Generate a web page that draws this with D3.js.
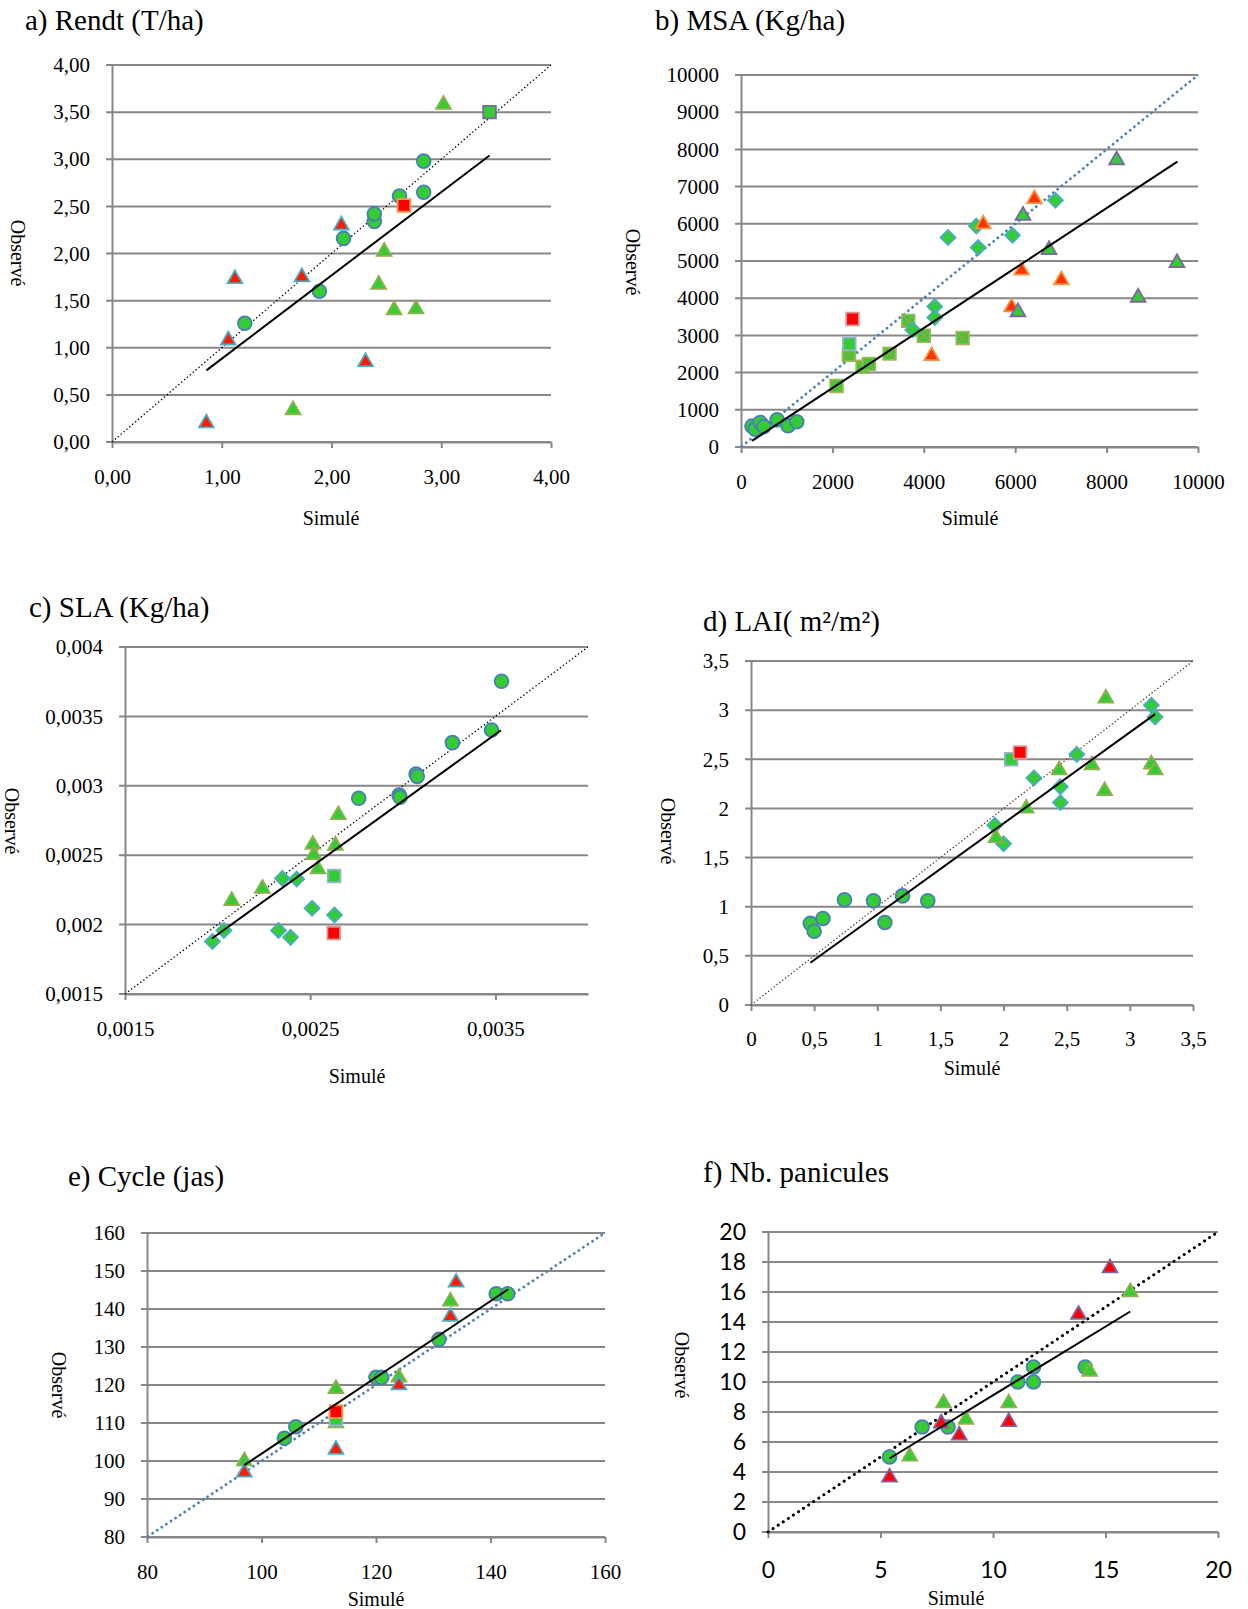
<!DOCTYPE html>
<html lang="fr">
<head>
<meta charset="utf-8"/>
<script src="https://cdn.jsdelivr.net/npm/d3@7"></script>
<style>
  body { margin: 0; background: #fff; }
  text { font-family: "Liberation Serif", "Times New Roman", serif; fill: #000; }
</style>
</head>
<body>
<script>
// ---- data (simulé, observé) ----
var aCirc = [[1.21,1.26],[1.89,1.60],[2.11,2.16],[2.39,2.34],[2.39,2.42],[2.62,2.61],[2.84,2.65],[2.84,2.98]];
var aTriR = [[0.86,0.20],[1.06,1.08],[1.12,1.73],[1.73,1.75],[2.09,2.30],[2.31,0.85]];
var aTriG = [[1.65,0.34],[2.43,1.67],[2.48,2.02],[2.57,1.40],[2.77,1.41],[3.02,3.58]];
var aSqP = [[3.44,3.50]];
var aSqR = [[2.66,2.51]];
var aFit = [[0.86,0.76],[3.44,3.04]];
var aXTicks = [0,1,2,3,4];
var aYTicks = [0,0.5,1,1.5,2,2.5,3,3.5,4];

var bCirc = [[240,560],[310,480],[420,660],[500,550],[790,730],[1030,570],[1220,680]];
var bSqX = [[2090,1640],[2360,2480],[2660,2155],[2800,2230],[3250,2510],[3660,3390],[4000,2990],[4850,2930]];
var bSqB = [[2370,2770]];
var bSqR = [[2440,3440]];
var bDia = [[3760,3150],[4240,3775],[4240,3480],[4530,5630],[5150,5940],[5190,5360],[5940,5690],[6880,6630]];
var bTriO = [[4170,2450],[5300,5990],[5920,3760],[6140,4750],[6420,6670],[7010,4490]];
var bTriP = [[6060,3630],[6170,6220],[6740,5300],[8220,7710],[8690,4020],[9540,4950]];
var bFit = [[240,165],[9550,7670]];
var bXTicks = [0,2000,4000,6000,8000,10000];
var bYTicks = [0,1000,2000,3000,4000,5000,6000,7000,8000,9000,10000];

var cCirc = [[0.002762,0.00291],[0.00298,0.002934],[0.002985,0.002918],[0.003072,0.003085],[0.003078,0.003068],[0.003268,0.003311],[0.003479,0.003402],[0.003533,0.003753]];
var cTriG = [[0.002076,0.002171],[0.002242,0.00226],[0.002514,0.002577],[0.002519,0.002503],[0.002542,0.0024],[0.002636,0.00257],[0.002652,0.00279]];
var cDia = [[0.001972,0.001879],[0.002034,0.001958],[0.002329,0.001958],[0.00235,0.002333],[0.002394,0.001908],[0.002427,0.002328],[0.00251,0.002118],[0.002631,0.00207]];
var cSqB = [[0.002629,0.00235]];
var cSqR = [[0.002627,0.001939]];
var cFit = [[0.00197,0.0019],[0.00353,0.0034]];
var cXTicks = [0.0015,0.0025,0.0035];
var cYTicks = [0.0015,0.002,0.0025,0.003,0.0035,0.004];

var dCirc = [[0.47,0.83],[0.50,0.75],[0.57,0.88],[0.74,1.07],[0.97,1.06],[1.06,0.84],[1.20,1.11],[1.40,1.06]];
var dDia = [[1.93,1.83],[2.0,1.64],[2.24,2.31],[2.45,2.06],[2.45,2.22],[2.58,2.55],[3.17,3.05],[3.2,2.93]];
var dTriG = [[1.94,1.70],[2.18,2.0],[2.44,2.39],[2.70,2.44],[2.80,2.18],[2.81,3.12],[3.17,2.45],[3.2,2.39]];
var dSqB = [[2.06,2.50]];
var dSqR = [[2.13,2.57]];
var dFit = [[0.47,0.43],[3.2,2.96]];
var dTicks = [0,0.5,1,1.5,2,2.5,3,3.5];

var eCirc = [[104,106],[106,109],[120,122],[121,122],[131,132],[141,144],[143,144]];
var eTriG = [[97,100],[113,119],[113,110],[124,122],[133,142]];
var eTriR = [[97,97],[113,103],[124,120],[133,138],[134,147]];
var eSqB = [[113,111]];
var eSqR = [[113,113]];
var eFit = [[97,98.9],[143.1,145.2]];
var eXTicks = [80,100,120,140,160];
var eYTicks = [80,90,100,110,120,130,140,150,160];

var fCirc = [[5.4,5],[6.85,7],[8,7],[11.1,10],[11.8,10],[11.8,11],[14.1,11]];
var fTriG = [[6.3,5.05],[7.8,8.6],[8.8,7.5],[10.7,8.6],[14.3,10.7],[16.1,16]];
var fTriR = [[5.4,3.65],[7.7,7.25],[8.5,6.45],[10.7,7.35],[13.8,14.5],[15.2,17.6]];
var fFit = [[5.4,4.9],[16.1,14.7]];
var fXTicks = [0,5,10,15,20];
var fYTicks = [0,2,4,6,8,10,12,14,16,18,20];

// ---- marker styles ----
var GREEN = "#33cc33";
var M = {
    circ:  {shape: "circle",   fill: GREEN,     stroke: "#4a7ebb"},
    triR:  {shape: "triangle", fill: "#ff1a00", stroke: "#4bacc6"},
    triG:  {shape: "triangle", fill: GREEN,     stroke: "#8eb04e"},
    triO:  {shape: "triangle", fill: "#ff3300", stroke: "#f79646"},
    triGP: {shape: "triangle", fill: GREEN,     stroke: "#8064a2"},
    triRP: {shape: "triangle", fill: "#ff0000", stroke: "#8064a2"},
    sqP:   {shape: "square",   fill: GREEN,     stroke: "#8064a2"},
    sqRO:  {shape: "square",   fill: "#ff0000", stroke: "#f79646"},
    sqRP:  {shape: "square",   fill: "#ff0000", stroke: "#d99694"},
    sqB:   {shape: "square",   fill: GREEN,     stroke: "#95b3d7"},
    sqX:   {shape: "squareX",  fill: GREEN,     stroke: "#9bbb59"},
    dia:   {shape: "diamond",  fill: GREEN,     stroke: "#4bacc6"}
};

var fmt2 = function(v) { return d3.format(".2f")(v).replace(".", ","); };
var fmtG = function(v) { return String(+v.toFixed(6)).replace(".", ","); };

var panels = [
    {title: "a) Rendt (T/ha)", tx: 25, ty: 30, L: 112, R: 551, T: 65, B: 442,
     xd: [0,4], yd: [0,4], xt: aXTicks, yt: aYTicks, fmt: fmt2, xpad: 21,
     one: {c: "#000", w: 1.3, d: "1.4,2.4"}, fit: aFit, simX: 331, simY: 525, obsX: 18, obsY: 253,
     series: [[aCirc, M.circ], [aTriR, M.triR], [aTriG, M.triG], [aSqP, M.sqP], [aSqR, M.sqRO]]},
    {title: "b) MSA (Kg/ha)", tx: 655, ty: 30, L: 741, R: 1198, T: 75, B: 447,
     xd: [0,10000], yd: [0,10000], xt: bXTicks, yt: bYTicks, fmt: fmtG, xpad: 21,
     one: {c: "#4a7ebb", w: 2.5, d: "2.5,3"}, fit: bFit, simX: 970, simY: 525, obsX: 633, obsY: 262,
     series: [[bCirc, M.circ], [bSqX, M.sqX], [bSqB, M.sqB], [bSqR, M.sqRP], [bDia, M.dia], [bTriO, M.triO], [bTriP, M.triGP]]},
    {title: "c) SLA (Kg/ha)", tx: 29, ty: 617, L: 125, R: 588, T: 647, B: 994,
     xd: [0.0015,0.004], yd: [0.0015,0.004], xt: cXTicks, yt: cYTicks, fmt: fmtG, xpad: 21,
     one: {c: "#000", w: 1.3, d: "1.4,2.4"}, fit: cFit, simX: 357, simY: 1083, obsX: 12, obsY: 821,
     series: [[cCirc, M.circ], [cTriG, M.triG], [cDia, M.dia], [cSqB, M.sqB], [cSqR, M.sqRP]]},
    {title: "d) LAI( m²/m²)", tx: 703, ty: 631, L: 751, R: 1193, T: 661, B: 1005,
     xd: [0,3.5], yd: [0,3.5], xt: dTicks, yt: dTicks, fmt: fmtG, xpad: 20,
     one: {c: "#5c4033", w: 1.3, d: "1.4,2.2"}, fit: dFit, simX: 972, simY: 1075, obsX: 668, obsY: 831,
     series: [[dCirc, M.circ], [dDia, M.dia], [dTriG, M.triG], [dSqB, M.sqB], [dSqR, M.sqRP]]},
    {title: "e) Cycle (jas)", tx: 68, ty: 1186, L: 147, R: 605, T: 1233, B: 1537,
     xd: [80,160], yd: [80,160], xt: eXTicks, yt: eYTicks, fmt: fmtG, xpad: 21,
     one: {c: "#4a7ebb", w: 2.5, d: "2.5,3"}, fit: eFit, simX: 376, simY: 1606, obsX: 59, obsY: 1385,
     series: [[eCirc, M.circ], [eTriG, M.triG], [eTriR, M.triR], [eSqB, M.sqB], [eSqR, M.sqRO]]},
    {title: "f) Nb. panicules", tx: 703, ty: 1182, L: 768, R: 1218, T: 1232, B: 1532,
     xd: [0,20], yd: [0,20], xt: fXTicks, yt: fYTicks, fmt: fmtG, xpad: 24, sans: true,
     one: {c: "#000", w: 3, d: "0.1,6", cap: "round"}, fit: fFit, simX: 956, simY: 1605, obsX: 682, obsY: 1365,
     series: [[fCirc, M.circ], [fTriG, M.triG], [fTriR, M.triRP]]}
];

var GRID = "#878787";

var diamond = {
    draw: function(ctx, size) {
        var r = Math.sqrt(size / 2);
        ctx.moveTo(0, -r); ctx.lineTo(r, 0); ctx.lineTo(0, r); ctx.lineTo(-r, 0); ctx.closePath();
    }
};

var svg = d3.select("body").append("svg")
    .attr("width", 1248)
    .attr("height", 1609);

function drawMarkers(g, pts, st, x, y) {
    var type = d3.symbolSquare, size = 160;
    if (st.shape == "circle") { type = d3.symbolCircle; size = 150; }
    if (st.shape == "triangle") { type = d3.symbolTriangle; size = 95; }
    if (st.shape == "diamond") { type = diamond; size = 112; }
    var sym = d3.symbol().type(type).size(size);
    var m = g.selectAll(null).data(pts).enter().append("g")
        .attr("transform", function(d) { return "translate(" + x(d[0]) + "," + y(d[1]) + ")"; });
    m.append("path")
        .attr("d", sym)
        .attr("fill", st.fill)
        .attr("stroke", st.stroke)
        .attr("stroke-width", 1.8);
    if (st.shape == "squareX") {
        m.append("path")
            .attr("d", "M-6,-6L6,6M-6,6L6,-6")
            .attr("stroke", "#a39d55")
            .attr("stroke-width", 1.4)
            .attr("fill", "none");
    }
}

panels.forEach(function(p) {
    var x = d3.scaleLinear().domain(p.xd).range([p.L, p.R]);
    var y = d3.scaleLinear().domain(p.yd).range([p.B, p.T]);
    var g = svg.append("g");
    var tickFont = p.sans ? "Lato, 'Open Sans', sans-serif" : "'Liberation Serif', serif";
    var tickSize = p.sans ? 23 : 21;

    g.append("text")
        .attr("x", p.tx).attr("y", p.ty)
        .style("font-size", "29px")
        .text(p.title);

    // horizontal gridlines
    g.selectAll(null).data(p.yt).enter().append("line")
        .attr("x1", p.L - 6).attr("x2", p.R)
        .attr("y1", function(d) { return y(d); })
        .attr("y2", function(d) { return y(d); })
        .attr("stroke", GRID).attr("stroke-width", 2);

    var ya = g.append("g")
        .attr("transform", "translate(" + p.L + ",0)")
        .call(d3.axisLeft(y).tickValues(p.yt).tickSize(0).tickSizeOuter(0).tickPadding(22).tickFormat(p.fmt));
    ya.select(".domain").attr("stroke", GRID).attr("stroke-width", 2);
    ya.selectAll("text").style("font-family", tickFont).style("font-size", tickSize + "px").attr("fill", "#000");

    var xa = g.append("g")
        .attr("transform", "translate(0," + p.B + ")")
        .call(d3.axisBottom(x).tickValues(p.xt).tickSize(6).tickSizeOuter(0).tickPadding(p.xpad).tickFormat(p.fmt));
    xa.select(".domain").attr("stroke", GRID).attr("stroke-width", 2);
    xa.selectAll(".tick line").attr("stroke", GRID).attr("stroke-width", 2);
    xa.selectAll("text").style("font-family", tickFont).style("font-size", tickSize + "px").attr("fill", "#000");

    g.append("text")
        .attr("x", p.simX).attr("y", p.simY)
        .attr("text-anchor", "middle")
        .style("font-size", "20px")
        .text("Simulé");
    g.append("text")
        .attr("transform", "translate(" + p.obsX + "," + p.obsY + ") rotate(90)")
        .attr("text-anchor", "middle")
        .attr("dy", "0.35em")
        .style("font-size", "20px")
        .text("Observé");

    // 1:1 line
    g.append("line")
        .attr("x1", x(p.xd[0])).attr("y1", y(p.yd[0]))
        .attr("x2", x(p.xd[1])).attr("y2", y(p.yd[1]))
        .attr("stroke", p.one.c).attr("stroke-width", p.one.w)
        .attr("stroke-dasharray", p.one.d)
        .attr("stroke-linecap", p.one.cap || "butt");

    p.series.forEach(function(s) { drawMarkers(g, s[0], s[1], x, y); });

    // trend line
    g.append("path")
        .datum(p.fit)
        .attr("d", d3.line().x(function(d) { return x(d[0]); }).y(function(d) { return y(d[1]); }))
        .attr("stroke", "#000").attr("stroke-width", 2).attr("fill", "none");
});
</script>
</body>
</html>
